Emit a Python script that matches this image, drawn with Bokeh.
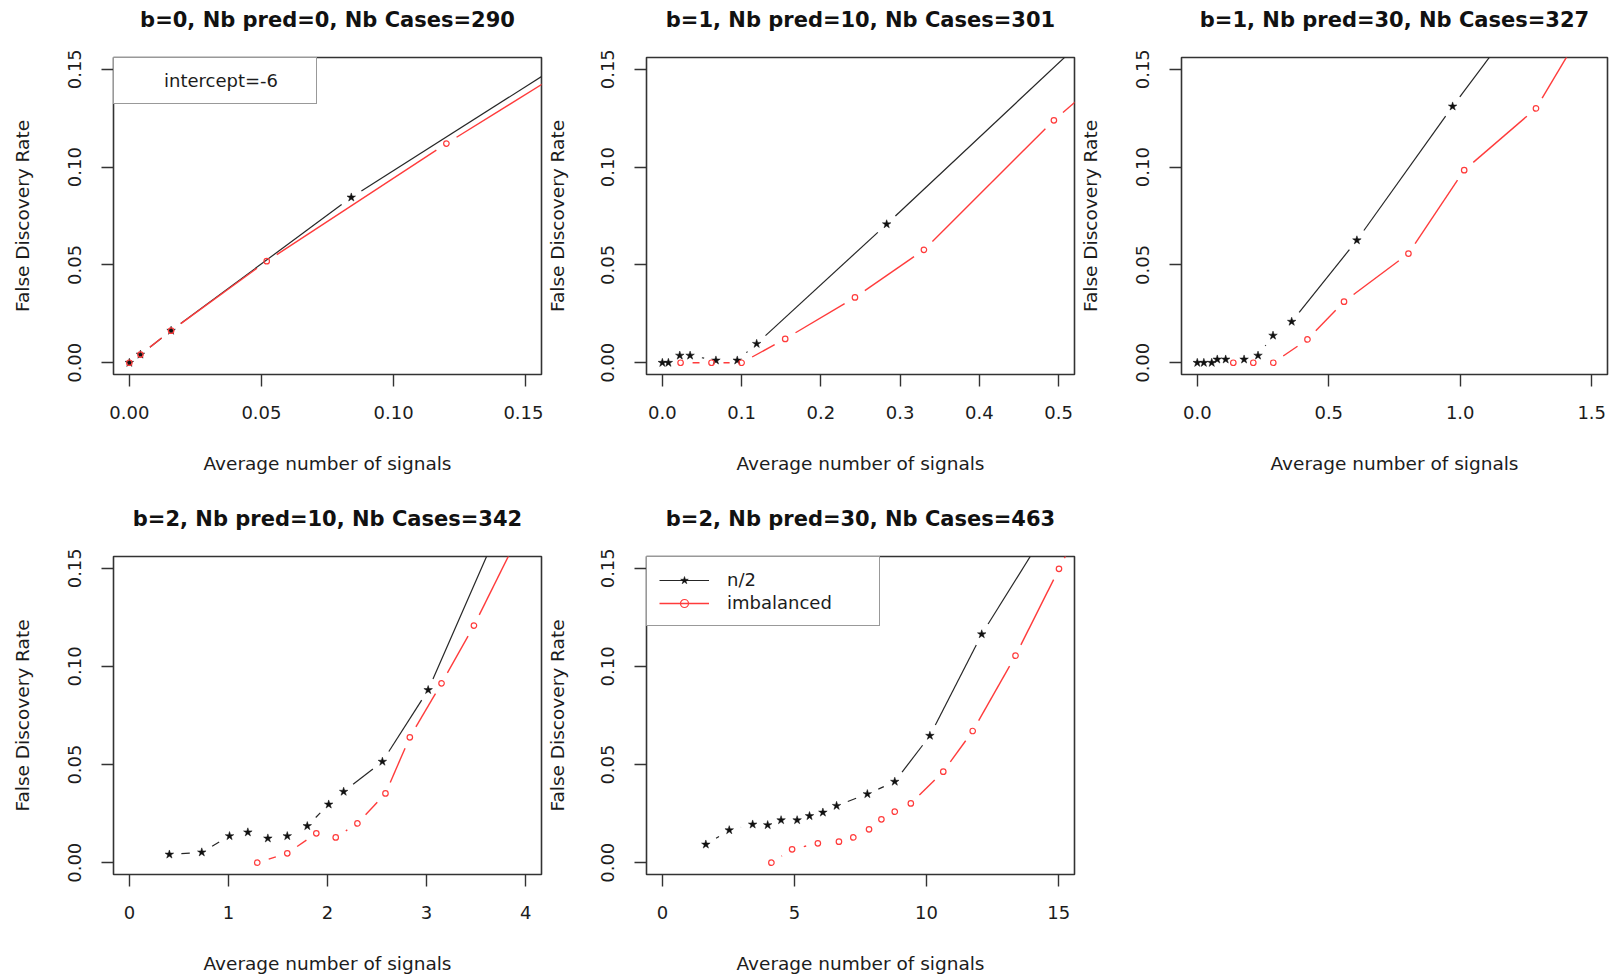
import math
from bokeh.plotting import figure
from bokeh.layouts import column, row
from bokeh.models import (Range1d, FixedTicker, PrintfTickFormatter, Legend,
                          LegendItem, ColumnDataSource, Title)
from bokeh.embed import file_html
from bokeh.resources import INLINE

# ---------------- data ----------------
titles = ["b=0, Nb pred=0, Nb Cases=290",
          "b=1, Nb pred=10, Nb Cases=301",
          "b=1, Nb pred=30, Nb Cases=327",
          "b=2, Nb pred=10, Nb Cases=342",
          "b=2, Nb pred=30, Nb Cases=463"]
x_limits = [0.15, 0.5, 1.5, 4, 15]
x_ticks = [[0, 0.05, 0.10, 0.15],
           [0, 0.1, 0.2, 0.3, 0.4, 0.5],
           [0, 0.5, 1.0, 1.5],
           [0, 1, 2, 3, 4],
           [0, 5, 10, 15]]
x_tick_formats = ["%.2f", "%.1f", "%.1f", "%d", "%d"]
y_limit = 0.15
y_ticks = [0, 0.05, 0.10, 0.15]
x_label = "Average number of signals"
y_label = "False Discovery Rate"
series_labels = ["n/2", "imbalanced"]
intercept_label = "intercept=-6"

# panel 1
p1_n2_x = [0.0, 0.0042, 0.0158, 0.084, 0.20]
p1_n2_y = [0.0, 0.0042, 0.0164, 0.0845, 0.184]
p1_imb_x = [0.0, 0.0042, 0.0158, 0.052, 0.120, 0.20]
p1_imb_y = [0.0, 0.0042, 0.0164, 0.0519, 0.112, 0.179]
# panel 2
p2_n2_x = [0.0, 0.0076, 0.022, 0.035, 0.0676, 0.0945, 0.119, 0.283, 0.56]
p2_n2_y = [0.0, 0.0, 0.0037, 0.0037, 0.0012, 0.0012, 0.0097, 0.0708, 0.176]
p2_imb_x = [0.023, 0.062, 0.100, 0.155, 0.243, 0.330, 0.494, 0.62]
p2_imb_y = [0.0, 0.0, 0.0, 0.0122, 0.0334, 0.0577, 0.1239, 0.168]
# panel 3
p3_n2_x = [0.0, 0.025, 0.055, 0.076, 0.108, 0.178, 0.231, 0.288, 0.359, 0.607, 0.971, 1.30]
p3_n2_y = [0.0, 0.0, 0.0, 0.0017, 0.0017, 0.0017, 0.0037, 0.0139, 0.021, 0.0626, 0.131, 0.19]
p3_imb_x = [0.137, 0.213, 0.289, 0.419, 0.558, 0.803, 1.015, 1.288, 1.55]
p3_imb_y = [0.0, 0.0, 0.0, 0.0119, 0.0312, 0.0558, 0.0984, 0.130, 0.189]
# panel 4
p4_n2_x = [0.404, 0.731, 1.011, 1.196, 1.398, 1.594, 1.796, 2.012, 2.163, 2.554, 3.016, 3.90]
p4_n2_y = [0.0042, 0.0053, 0.0136, 0.0155, 0.0124, 0.0136, 0.0187, 0.0297, 0.0362, 0.0515, 0.088, 0.19]
p4_imb_x = [1.291, 1.594, 1.887, 2.083, 2.302, 2.585, 2.831, 3.151, 3.478, 4.10]
p4_imb_y = [0.0, 0.0048, 0.015, 0.0129, 0.020, 0.0353, 0.0639, 0.0914, 0.1208, 0.184]
# panel 5
p5_n2_x = [1.646, 2.532, 3.418, 3.987, 4.494, 5.101, 5.570, 6.076, 6.595, 7.759, 8.797, 10.127, 12.089, 15.5]
p5_n2_y = [0.0093, 0.0166, 0.0195, 0.0192, 0.0217, 0.0217, 0.0238, 0.0256, 0.029, 0.035, 0.0413, 0.0647, 0.1164, 0.19]
p5_imb_x = [4.127, 4.911, 5.886, 6.684, 7.228, 7.823, 8.291, 8.797, 9.405, 10.633, 11.747, 13.367, 15.013, 16.3]
p5_imb_y = [0.0, 0.0068, 0.0099, 0.0107, 0.0129, 0.017, 0.0221, 0.026, 0.0302, 0.0464, 0.0671, 0.1055, 0.1497, 0.184]

panels_n2 = [(p1_n2_x, p1_n2_y), (p2_n2_x, p2_n2_y), (p3_n2_x, p3_n2_y),
             (p4_n2_x, p4_n2_y), (p5_n2_x, p5_n2_y)]
panels_imb = [(p1_imb_x, p1_imb_y), (p2_imb_x, p2_imb_y), (p3_imb_x, p3_imb_y),
              (p4_imb_x, p4_imb_y), (p5_imb_x, p5_imb_y)]

# ---------------- style ----------------
FONT = "DejaVu Sans"
TXT = "#1c1c1c"
BLACK = "#262626"
RED = "#ff3b3b"
GAP = 12  # px gap around points (R type="b")

# layout: (min_border_left, frame_width, min_border_right, ylabel standoff)
col_geom = [(113, 428, 2, 33), (103, 428, 2, 31), (105, 426, 2, 33)]
# (top, frame_h, bottom, xlabel standoff)
row_geom = [(55, 317, 124, 31), (58, 318, 104, 31)]


def r_range(lo, hi):
    d = hi - lo
    return lo - 0.04 * d, hi + 0.04 * d


def gapped(xs, ys, xr, yr, fw, fh, gap):
    sx = fw / (xr[1] - xr[0])
    sy = fh / (yr[1] - yr[0])
    out = dict(x0=[], y0=[], x1=[], y1=[])
    for i in range(len(xs) - 1):
        dx = xs[i + 1] - xs[i]
        dy = ys[i + 1] - ys[i]
        d = math.hypot(dx * sx, dy * sy)
        if d > 2 * gap:
            f = gap / d
            out["x0"].append(xs[i] + f * dx)
            out["y0"].append(ys[i] + f * dy)
            out["x1"].append(xs[i + 1] - f * dx)
            out["y1"].append(ys[i + 1] - f * dy)
    return out


def make_panel(k, ci, ri):
    bl, fw, br, yls = col_geom[ci]
    bt, fh, bb, xls = row_geom[ri]
    xr = r_range(0, x_limits[k])
    yr = r_range(0, y_limit)
    p = figure(frame_width=fw, frame_height=fh,
               min_border_left=bl, min_border_right=br,
               min_border_top=bt, min_border_bottom=bb,
               x_range=Range1d(*xr), y_range=Range1d(*yr),
               output_backend="svg", toolbar_location=None, title=None)
    p.grid.visible = False
    p.background_fill_color = "white"
    p.border_fill_color = "white"
    p.outline_line_color = "#333333"
    p.outline_line_width = 1.6

    # spacer between frame and title, then the title itself
    p.add_layout(Title(text=" ", text_font_size="1px", standoff=18), "above")
    p.add_layout(Title(text=titles[k], align="center", standoff=10,
                       text_font=FONT, text_font_size="21px",
                       text_font_style="bold", text_color="#111111"), "above")

    for ax in (p.xaxis[0], p.yaxis[0]):
        ax.axis_line_color = None
        ax.major_tick_out = 12
        ax.major_tick_in = 0
        ax.minor_tick_line_color = None
        ax.major_tick_line_color = "#333333"
        ax.major_tick_line_width = 1.4
        ax.major_label_text_font = FONT
        ax.major_label_text_font_size = "18px"
        ax.major_label_text_color = TXT
        ax.axis_label_text_font = FONT
        ax.axis_label_text_font_size = "18.5px"
        ax.axis_label_text_font_style = "normal"
        ax.axis_label_text_color = TXT

    p.xaxis.ticker = FixedTicker(ticks=x_ticks[k])
    p.xaxis.formatter = PrintfTickFormatter(format=x_tick_formats[k])
    p.xaxis.major_label_standoff = 19
    p.xaxis.axis_label = x_label
    p.xaxis.axis_label_standoff = xls
    p.yaxis.ticker = FixedTicker(ticks=y_ticks)
    p.yaxis.formatter = PrintfTickFormatter(format="%.2f")
    p.yaxis.major_label_orientation = "vertical"
    p.yaxis.major_label_standoff = 20
    p.yaxis.axis_label = y_label
    p.yaxis.axis_label_standoff = yls

    bx, by = panels_n2[k]
    rx, ry = panels_imb[k]
    seg_b = p.segment("x0", "y0", "x1", "y1",
                      source=ColumnDataSource(gapped(bx, by, xr, yr, fw, fh, GAP)),
                      line_color=BLACK, line_width=1.2)
    sc_b = p.scatter(bx, by, marker="star", size=9, fill_color="#111111",
                     line_color="#111111", line_width=0.5)
    seg_r = p.segment("x0", "y0", "x1", "y1",
                      source=ColumnDataSource(gapped(rx, ry, xr, yr, fw, fh, GAP)),
                      line_color=RED, line_width=1.4)
    sc_r = p.scatter(rx, ry, marker="circle", size=5.5, fill_color=None,
                     line_color=RED, line_width=1.2)

    common = dict(location="top_left", margin=0, padding=12,
                  border_line_color="#333333", border_line_width=1.3,
                  background_fill_color="white", background_fill_alpha=1.0,
                  label_text_font=FONT, label_text_font_size="18px",
                  label_text_color=TXT, label_height=20, glyph_height=20)
    if k == 0:
        dummy = p.scatter([], [], marker="circle", alpha=0)
        leg = Legend(items=[LegendItem(label=intercept_label, renderers=[dummy])],
                     glyph_width=26, label_standoff=12, label_width=140,
                     spacing=0, **common)
        p.add_layout(leg, "center")
    if k == 4:
        leg = Legend(items=[LegendItem(label=series_labels[0], renderers=[seg_b, sc_b]),
                            LegendItem(label=series_labels[1], renderers=[seg_r, sc_r])],
                     glyph_width=50, label_standoff=18, label_width=140,
                     spacing=2, **common)
        p.add_layout(leg, "center")
    return p


figs = [make_panel(0, 0, 0), make_panel(1, 1, 0), make_panel(2, 2, 0),
        make_panel(3, 0, 1), make_panel(4, 1, 1)]

layout = column(row(figs[0], figs[1], figs[2], spacing=0),
                row(figs[3], figs[4], spacing=0), spacing=0)

open("out.html", "w").write(file_html(layout, INLINE))
